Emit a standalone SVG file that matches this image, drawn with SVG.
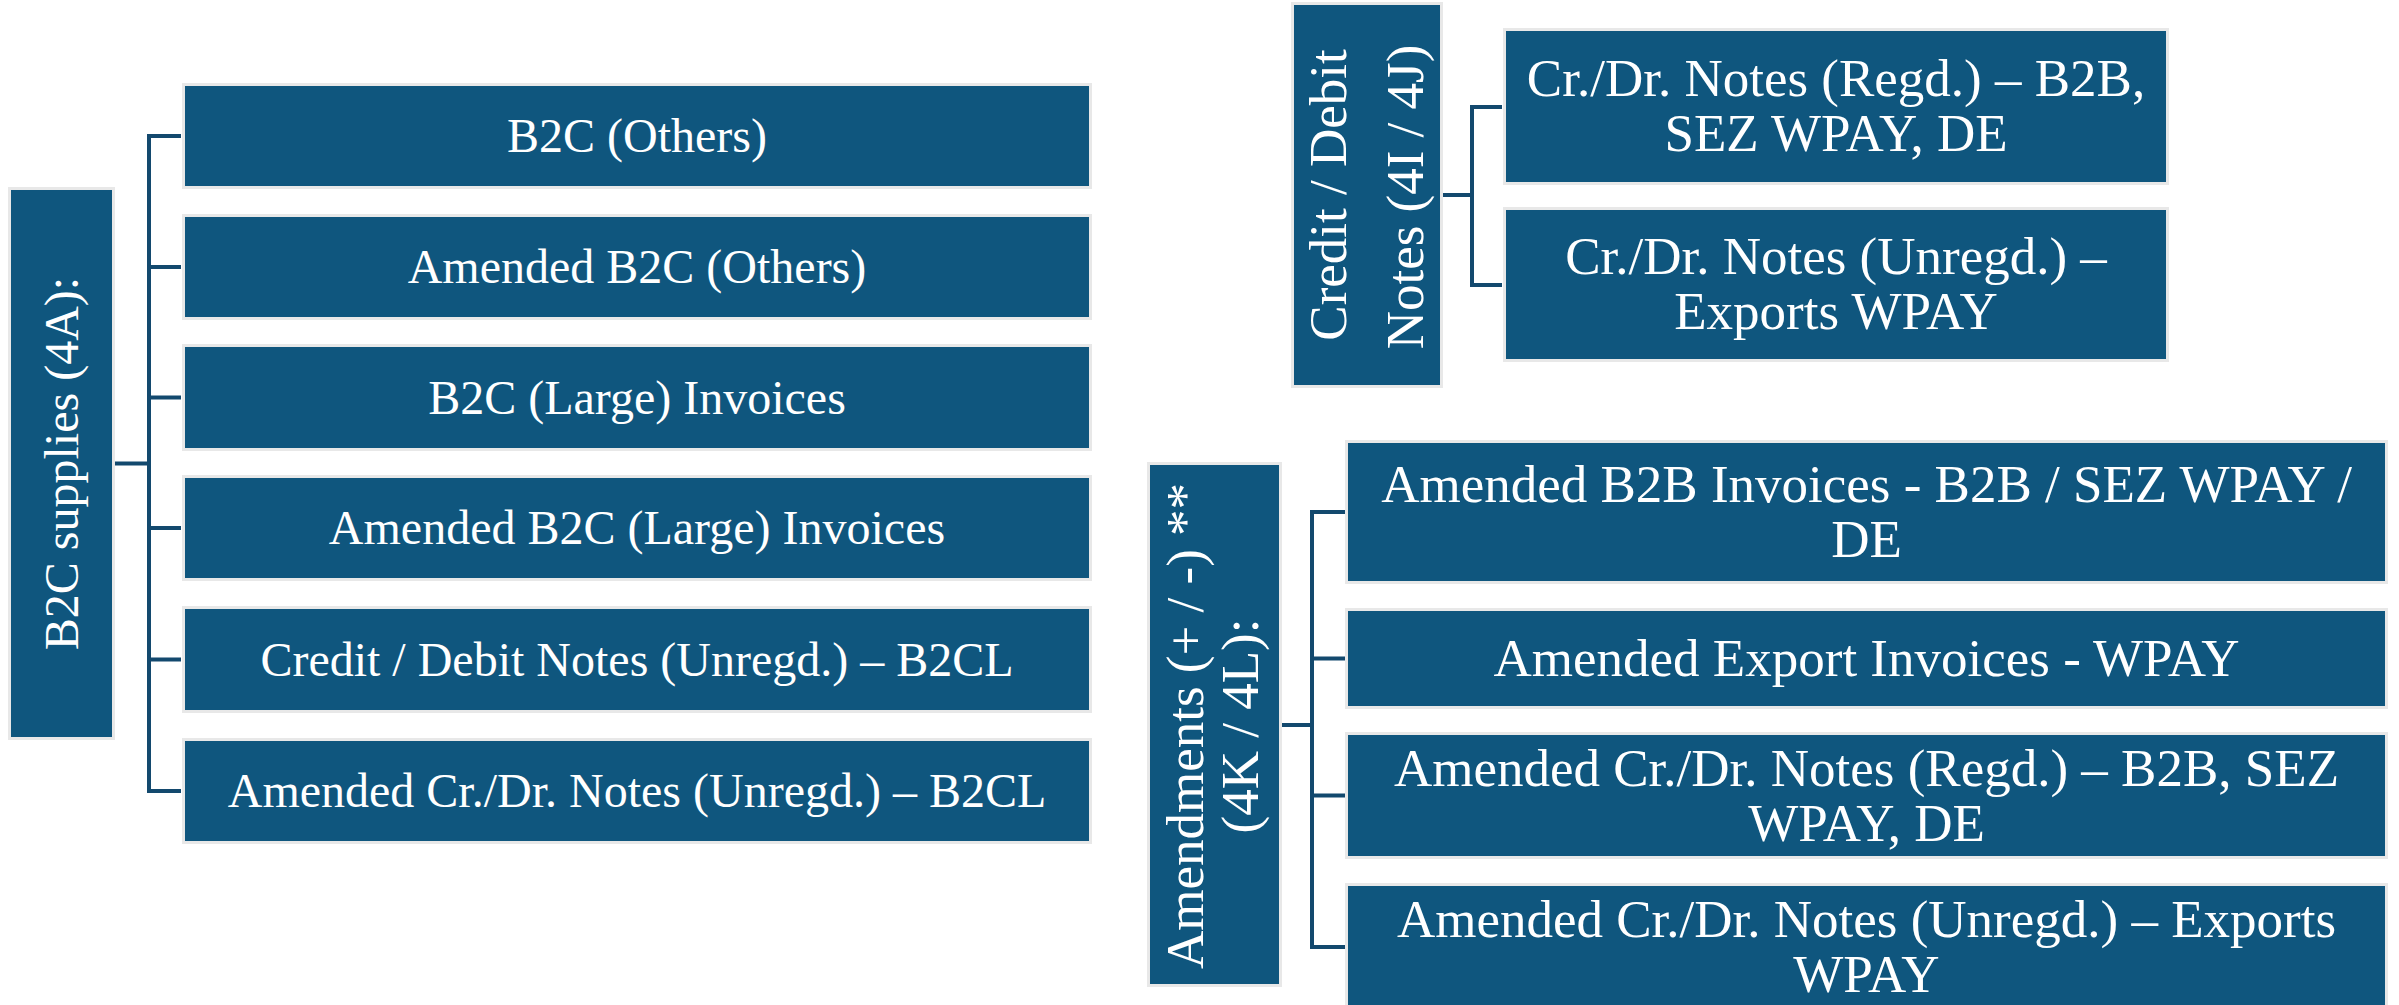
<svg xmlns="http://www.w3.org/2000/svg" width="2399" height="1005" viewBox="0 0 2399 1005">
<style>
.box{fill:#0F567E;stroke:#E8E8E8;stroke-width:3}
.t{font-family:"Liberation Serif","Times New Roman",serif;fill:#FFFFFF;text-anchor:middle}
.s48{font-size:48px}
.s53{font-size:53px}
.conn{fill:none;stroke:#13496E;stroke-width:4;stroke-linejoin:miter;stroke-linecap:butt}
</style>
<rect width="2399" height="1005" fill="#FFFFFF"/>
<g id="connectors">
<path class="conn" d="M115,463.5 H149"/>
<path class="conn" d="M181,136 H149 V791 H181"/>
<path class="conn" d="M149,267 H181 M149,397.5 H181 M149,528 H181 M149,659.5 H181"/>
<path class="conn" d="M1443,195 H1472"/>
<path class="conn" d="M1502,107 H1472 V285 H1502"/>
<path class="conn" d="M1282,725 H1312"/>
<path class="conn" d="M1345,512 H1312 V947 H1345"/>
<path class="conn" d="M1312,658.5 H1345 M1312,795.5 H1345"/>
</g>
<g id="b2c-root">
<rect class="box" x="9.5" y="188.5" width="104" height="550"/>
<text class="t s48" transform="translate(61.5,463.5) rotate(-90)" x="0" y="16">B2C supplies (4A):</text>
</g>
<g id="b2c-others">
<rect class="box" x="183.5" y="84.5" width="907" height="103"/>
<text class="t s48" x="637" y="152">B2C (Others)</text>
</g>
<g id="amended-b2c-others">
<rect class="box" x="183.5" y="215.5" width="907" height="103"/>
<text class="t s48" x="637" y="283">Amended B2C (Others)</text>
</g>
<g id="b2c-large">
<rect class="box" x="183.5" y="345.5" width="907" height="104"/>
<text class="t s48" x="637" y="413.5">B2C (Large) Invoices</text>
</g>
<g id="amended-b2c-large">
<rect class="box" x="183.5" y="476.5" width="907" height="103"/>
<text class="t s48" x="637" y="544">Amended B2C (Large) Invoices</text>
</g>
<g id="cdn-b2cl">
<rect class="box" x="183.5" y="607.5" width="907" height="104"/>
<text class="t s48" x="637" y="675.5">Credit / Debit Notes (Unregd.) – B2CL</text>
</g>
<g id="amended-cdn-b2cl">
<rect class="box" x="183.5" y="739.5" width="907" height="103"/>
<text class="t s48" x="637" y="807">Amended Cr./Dr. Notes (Unregd.) – B2CL</text>
</g>
<g id="cdn-root">
<rect class="box" x="1292.5" y="3.5" width="149" height="383"/>
<text class="t s53" transform="translate(1367,195) rotate(-90)" x="0" y="-21">Credit / Debit</text>
<text class="t s53" transform="translate(1367,197) rotate(-90)" x="0" y="56">Notes (4I / 4J)</text>
</g>
<g id="cdn-regd">
<rect class="box" x="1504.5" y="29.5" width="663" height="154"/>
<text class="t s53" x="1836" y="96">Cr./Dr. Notes (Regd.) – B2B,</text>
<text class="t s53" x="1836" y="151">SEZ WPAY, DE</text>
</g>
<g id="cdn-unregd">
<rect class="box" x="1504.5" y="208.5" width="663" height="152"/>
<text class="t s53" x="1836" y="274">Cr./Dr. Notes (Unregd.) –</text>
<text class="t s53" x="1836" y="329">Exports WPAY</text>
</g>
<g id="amend-root">
<rect class="box" x="1148.5" y="463.5" width="132" height="522"/>
<text class="t s53" transform="translate(1214,726) rotate(-90)" x="0" y="-11">Amendments (+ / -) **</text>
<text class="t s53" transform="translate(1214,726) rotate(-90)" x="0" y="44">(4K / 4L):</text>
</g>
<g id="amend-b2b">
<rect class="box" x="1346.5" y="441.5" width="1040" height="141"/>
<text class="t s53" x="1866.5" y="502">Amended B2B Invoices - B2B / SEZ WPAY /</text>
<text class="t s53" x="1866.5" y="557">DE</text>
</g>
<g id="amend-export">
<rect class="box" x="1346.5" y="609.5" width="1040" height="98"/>
<text class="t s53" x="1866.5" y="676">Amended Export Invoices - WPAY</text>
</g>
<g id="amend-cdn-regd">
<rect class="box" x="1346.5" y="733.5" width="1040" height="124"/>
<text class="t s53" x="1866.5" y="785.5">Amended Cr./Dr. Notes (Regd.) – B2B, SEZ</text>
<text class="t s53" x="1866.5" y="840.5">WPAY, DE</text>
</g>
<g id="amend-cdn-unregd">
<rect class="box" x="1346.5" y="884.5" width="1040" height="125"/>
<text class="t s53" x="1866.5" y="937">Amended Cr./Dr. Notes (Unregd.) – Exports</text>
<text class="t s53" x="1866.5" y="992">WPAY</text>
</g>
</svg>
